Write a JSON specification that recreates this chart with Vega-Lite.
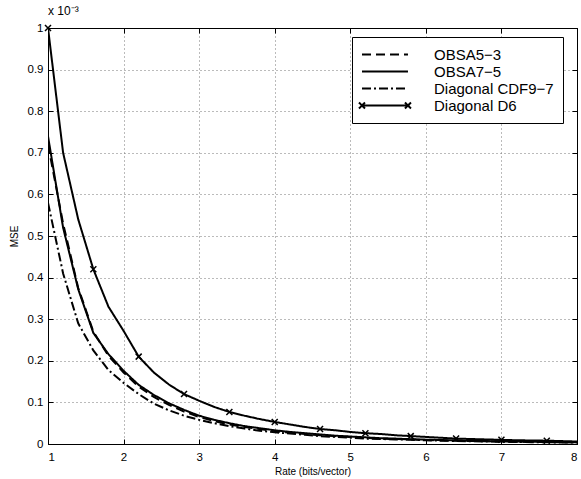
{
  "$schema": "https://vega.github.io/schema/vega-lite/v6.json",
  "width": 529,
  "height": 416,
  "autosize": {"type": "none"},
  "padding": {"left": 48, "top": 28, "right": 4, "bottom": 35},
  "background": "white",
  "title": {"text": "x 10⁻³", "anchor": "start", "frame": "group", "offset": 4, "fontSize": 12, "fontWeight": "normal", "font": "Liberation Sans", "color": "black"},
  "config": {
    "view": {"stroke": "black", "strokeWidth": 1},
    "font": "Liberation Sans",
    "axis": {
      "labelFont": "Liberation Sans", "labelFontSize": 11.5, "labelColor": "black",
      "titleFont": "Liberation Sans", "titleFontSize": 10, "titleFontWeight": "normal", "titleColor": "black",
      "domainColor": "black", "tickColor": "black", "tickSize": -5,
      "grid": true, "gridDash": [1, 3], "gridColor": "#777", "gridOpacity": 1
    }
  },
  "resolve": {"axis": {"x": "independent", "y": "independent"}},
  "data": {"values": [
    {"series": "OBSA5−3", "rate": 1.0, "mse": 0.72},
    {"series": "OBSA5−3", "rate": 1.2, "mse": 0.53},
    {"series": "OBSA5−3", "rate": 1.4, "mse": 0.375},
    {"series": "OBSA5−3", "rate": 1.6, "mse": 0.27},
    {"series": "OBSA5−3", "rate": 1.8, "mse": 0.212},
    {"series": "OBSA5−3", "rate": 2.0, "mse": 0.172},
    {"series": "OBSA5−3", "rate": 2.2, "mse": 0.138},
    {"series": "OBSA5−3", "rate": 2.4, "mse": 0.113},
    {"series": "OBSA5−3", "rate": 2.6, "mse": 0.094},
    {"series": "OBSA5−3", "rate": 2.8, "mse": 0.078},
    {"series": "OBSA5−3", "rate": 3.0, "mse": 0.065},
    {"series": "OBSA5−3", "rate": 3.2, "mse": 0.055},
    {"series": "OBSA5−3", "rate": 3.4, "mse": 0.047},
    {"series": "OBSA5−3", "rate": 3.6, "mse": 0.041},
    {"series": "OBSA5−3", "rate": 3.8, "mse": 0.036},
    {"series": "OBSA5−3", "rate": 4.0, "mse": 0.031},
    {"series": "OBSA5−3", "rate": 4.2, "mse": 0.027},
    {"series": "OBSA5−3", "rate": 4.4, "mse": 0.024},
    {"series": "OBSA5−3", "rate": 4.6, "mse": 0.021},
    {"series": "OBSA5−3", "rate": 4.8, "mse": 0.019},
    {"series": "OBSA5−3", "rate": 5.0, "mse": 0.017},
    {"series": "OBSA5−3", "rate": 5.2, "mse": 0.015},
    {"series": "OBSA5−3", "rate": 5.4, "mse": 0.013},
    {"series": "OBSA5−3", "rate": 5.6, "mse": 0.012},
    {"series": "OBSA5−3", "rate": 5.8, "mse": 0.011},
    {"series": "OBSA5−3", "rate": 6.0, "mse": 0.0098},
    {"series": "OBSA5−3", "rate": 6.2, "mse": 0.0088},
    {"series": "OBSA5−3", "rate": 6.4, "mse": 0.008},
    {"series": "OBSA5−3", "rate": 6.6, "mse": 0.0072},
    {"series": "OBSA5−3", "rate": 6.8, "mse": 0.0065},
    {"series": "OBSA5−3", "rate": 7.0, "mse": 0.006},
    {"series": "OBSA5−3", "rate": 7.2, "mse": 0.0054},
    {"series": "OBSA5−3", "rate": 7.4, "mse": 0.005},
    {"series": "OBSA5−3", "rate": 7.6, "mse": 0.0046},
    {"series": "OBSA5−3", "rate": 7.8, "mse": 0.0042},
    {"series": "OBSA5−3", "rate": 8.0, "mse": 0.0039},

    {"series": "OBSA7−5", "rate": 1.0, "mse": 0.74},
    {"series": "OBSA7−5", "rate": 1.2, "mse": 0.52},
    {"series": "OBSA7−5", "rate": 1.4, "mse": 0.372},
    {"series": "OBSA7−5", "rate": 1.6, "mse": 0.267},
    {"series": "OBSA7−5", "rate": 1.8, "mse": 0.216},
    {"series": "OBSA7−5", "rate": 2.0, "mse": 0.176},
    {"series": "OBSA7−5", "rate": 2.2, "mse": 0.142},
    {"series": "OBSA7−5", "rate": 2.4, "mse": 0.118},
    {"series": "OBSA7−5", "rate": 2.6, "mse": 0.098},
    {"series": "OBSA7−5", "rate": 2.8, "mse": 0.082},
    {"series": "OBSA7−5", "rate": 3.0, "mse": 0.068},
    {"series": "OBSA7−5", "rate": 3.2, "mse": 0.058},
    {"series": "OBSA7−5", "rate": 3.4, "mse": 0.05},
    {"series": "OBSA7−5", "rate": 3.6, "mse": 0.043},
    {"series": "OBSA7−5", "rate": 3.8, "mse": 0.038},
    {"series": "OBSA7−5", "rate": 4.0, "mse": 0.033},
    {"series": "OBSA7−5", "rate": 4.2, "mse": 0.029},
    {"series": "OBSA7−5", "rate": 4.4, "mse": 0.026},
    {"series": "OBSA7−5", "rate": 4.6, "mse": 0.023},
    {"series": "OBSA7−5", "rate": 4.8, "mse": 0.02},
    {"series": "OBSA7−5", "rate": 5.0, "mse": 0.018},
    {"series": "OBSA7−5", "rate": 5.2, "mse": 0.016},
    {"series": "OBSA7−5", "rate": 5.4, "mse": 0.014},
    {"series": "OBSA7−5", "rate": 5.6, "mse": 0.013},
    {"series": "OBSA7−5", "rate": 5.8, "mse": 0.0115},
    {"series": "OBSA7−5", "rate": 6.0, "mse": 0.0105},
    {"series": "OBSA7−5", "rate": 6.2, "mse": 0.0095},
    {"series": "OBSA7−5", "rate": 6.4, "mse": 0.0085},
    {"series": "OBSA7−5", "rate": 6.6, "mse": 0.0077},
    {"series": "OBSA7−5", "rate": 6.8, "mse": 0.007},
    {"series": "OBSA7−5", "rate": 7.0, "mse": 0.0064},
    {"series": "OBSA7−5", "rate": 7.2, "mse": 0.0058},
    {"series": "OBSA7−5", "rate": 7.4, "mse": 0.0053},
    {"series": "OBSA7−5", "rate": 7.6, "mse": 0.0049},
    {"series": "OBSA7−5", "rate": 7.8, "mse": 0.0045},
    {"series": "OBSA7−5", "rate": 8.0, "mse": 0.0042},

    {"series": "Diagonal CDF9−7", "rate": 1.0, "mse": 0.58},
    {"series": "Diagonal CDF9−7", "rate": 1.2, "mse": 0.41},
    {"series": "Diagonal CDF9−7", "rate": 1.4, "mse": 0.29},
    {"series": "Diagonal CDF9−7", "rate": 1.6, "mse": 0.225},
    {"series": "Diagonal CDF9−7", "rate": 1.8, "mse": 0.178},
    {"series": "Diagonal CDF9−7", "rate": 2.0, "mse": 0.147},
    {"series": "Diagonal CDF9−7", "rate": 2.2, "mse": 0.12},
    {"series": "Diagonal CDF9−7", "rate": 2.4, "mse": 0.097},
    {"series": "Diagonal CDF9−7", "rate": 2.6, "mse": 0.081},
    {"series": "Diagonal CDF9−7", "rate": 2.8, "mse": 0.068},
    {"series": "Diagonal CDF9−7", "rate": 3.0, "mse": 0.058},
    {"series": "Diagonal CDF9−7", "rate": 3.2, "mse": 0.05},
    {"series": "Diagonal CDF9−7", "rate": 3.4, "mse": 0.043},
    {"series": "Diagonal CDF9−7", "rate": 3.6, "mse": 0.037},
    {"series": "Diagonal CDF9−7", "rate": 3.8, "mse": 0.032},
    {"series": "Diagonal CDF9−7", "rate": 4.0, "mse": 0.028},
    {"series": "Diagonal CDF9−7", "rate": 4.2, "mse": 0.025},
    {"series": "Diagonal CDF9−7", "rate": 4.4, "mse": 0.022},
    {"series": "Diagonal CDF9−7", "rate": 4.6, "mse": 0.019},
    {"series": "Diagonal CDF9−7", "rate": 4.8, "mse": 0.017},
    {"series": "Diagonal CDF9−7", "rate": 5.0, "mse": 0.015},
    {"series": "Diagonal CDF9−7", "rate": 5.2, "mse": 0.013},
    {"series": "Diagonal CDF9−7", "rate": 5.4, "mse": 0.012},
    {"series": "Diagonal CDF9−7", "rate": 5.6, "mse": 0.011},
    {"series": "Diagonal CDF9−7", "rate": 5.8, "mse": 0.01},
    {"series": "Diagonal CDF9−7", "rate": 6.0, "mse": 0.009},
    {"series": "Diagonal CDF9−7", "rate": 6.2, "mse": 0.008},
    {"series": "Diagonal CDF9−7", "rate": 6.4, "mse": 0.0072},
    {"series": "Diagonal CDF9−7", "rate": 6.6, "mse": 0.0065},
    {"series": "Diagonal CDF9−7", "rate": 6.8, "mse": 0.006},
    {"series": "Diagonal CDF9−7", "rate": 7.0, "mse": 0.0055},
    {"series": "Diagonal CDF9−7", "rate": 7.2, "mse": 0.005},
    {"series": "Diagonal CDF9−7", "rate": 7.4, "mse": 0.0045},
    {"series": "Diagonal CDF9−7", "rate": 7.6, "mse": 0.004},
    {"series": "Diagonal CDF9−7", "rate": 7.8, "mse": 0.0037},
    {"series": "Diagonal CDF9−7", "rate": 8.0, "mse": 0.0034},

    {"series": "Diagonal D6", "rate": 1.0, "mse": 1.0},
    {"series": "Diagonal D6", "rate": 1.2, "mse": 0.7},
    {"series": "Diagonal D6", "rate": 1.4, "mse": 0.54},
    {"series": "Diagonal D6", "rate": 1.6, "mse": 0.42},
    {"series": "Diagonal D6", "rate": 1.8, "mse": 0.33},
    {"series": "Diagonal D6", "rate": 2.0, "mse": 0.272},
    {"series": "Diagonal D6", "rate": 2.2, "mse": 0.21},
    {"series": "Diagonal D6", "rate": 2.4, "mse": 0.172},
    {"series": "Diagonal D6", "rate": 2.6, "mse": 0.143},
    {"series": "Diagonal D6", "rate": 2.8, "mse": 0.12},
    {"series": "Diagonal D6", "rate": 3.0, "mse": 0.104},
    {"series": "Diagonal D6", "rate": 3.2, "mse": 0.089},
    {"series": "Diagonal D6", "rate": 3.4, "mse": 0.077},
    {"series": "Diagonal D6", "rate": 3.6, "mse": 0.068},
    {"series": "Diagonal D6", "rate": 3.8, "mse": 0.06},
    {"series": "Diagonal D6", "rate": 4.0, "mse": 0.053},
    {"series": "Diagonal D6", "rate": 4.2, "mse": 0.047},
    {"series": "Diagonal D6", "rate": 4.4, "mse": 0.041},
    {"series": "Diagonal D6", "rate": 4.6, "mse": 0.036},
    {"series": "Diagonal D6", "rate": 4.8, "mse": 0.033},
    {"series": "Diagonal D6", "rate": 5.0, "mse": 0.029},
    {"series": "Diagonal D6", "rate": 5.2, "mse": 0.026},
    {"series": "Diagonal D6", "rate": 5.4, "mse": 0.024},
    {"series": "Diagonal D6", "rate": 5.6, "mse": 0.021},
    {"series": "Diagonal D6", "rate": 5.8, "mse": 0.019},
    {"series": "Diagonal D6", "rate": 6.0, "mse": 0.017},
    {"series": "Diagonal D6", "rate": 6.2, "mse": 0.015},
    {"series": "Diagonal D6", "rate": 6.4, "mse": 0.013},
    {"series": "Diagonal D6", "rate": 6.6, "mse": 0.012},
    {"series": "Diagonal D6", "rate": 6.8, "mse": 0.011},
    {"series": "Diagonal D6", "rate": 7.0, "mse": 0.01},
    {"series": "Diagonal D6", "rate": 7.2, "mse": 0.009},
    {"series": "Diagonal D6", "rate": 7.4, "mse": 0.0085},
    {"series": "Diagonal D6", "rate": 7.6, "mse": 0.008},
    {"series": "Diagonal D6", "rate": 7.8, "mse": 0.007},
    {"series": "Diagonal D6", "rate": 8.0, "mse": 0.006}
  ]},
  "layer": [
    {
      "mark": {"type": "line", "color": "black", "strokeWidth": 2, "clip": true},
      "encoding": {
        "x": {"field": "rate", "type": "quantitative", "scale": {"domain": [1, 8], "nice": false},
              "axis": {"title": "Rate (bits/vector)", "values": [1, 2, 3, 4, 5, 6, 7, 8], "format": "d", "labelPadding": 12, "titlePadding": 4}},
        "y": {"field": "mse", "type": "quantitative", "scale": {"domain": [0, 1], "nice": false},
              "axis": {"title": "MSE", "values": [0, 0.1, 0.2, 0.3, 0.4, 0.5, 0.6, 0.7, 0.8, 0.9, 1], "format": "~g", "labelPadding": 10, "titlePadding": 8}},
        "strokeDash": {"field": "series", "type": "nominal",
          "scale": {"domain": ["OBSA5−3", "OBSA7−5", "Diagonal CDF9−7", "Diagonal D6"], "range": [[9, 5], [1, 0], [9, 3, 2, 3], [1, 0]]},
          "legend": {
            "title": null, "orient": "none", "legendX": 304, "legendY": 9,
            "strokeColor": "black", "fillColor": "white", "padding": 9,
            "labelFont": "Liberation Sans", "labelFontSize": 15, "labelColor": "black", "labelOffset": 56, "labelLimit": 300,
            "symbolSize": 225, "symbolStrokeWidth": 2, "symbolStrokeColor": "black", "symbolType": "stroke", "rowPadding": 0,
            "encode": {"symbols": {"update": {"shape": {"signal": "datum.value === 'Diagonal D6' ? 'M-1,0L5.13,0M-1.4,-0.4L-0.6,0.4M-1.4,0.4L-0.6,-0.4M4.73,-0.4L5.53,0.4M4.73,0.4L5.53,-0.4' : 'M-1,0L5.13,0'"}}}}
          }}
      }
    },
    {
      "transform": [{"filter": {"field": "series", "equal": "Diagonal D6"}}, {"filter": {"field": "rate", "oneOf": [1, 1.6, 2.2, 2.8, 3.4, 4, 4.6, 5.2, 5.8, 6.4, 7, 7.6]}}],
      "mark": {"type": "point", "shape": "M-1,-1L1,1M-1,1L1,-1", "size": 36, "color": "black", "strokeWidth": 1.5, "filled": false, "opacity": 1, "clip": false},
      "encoding": {
        "x": {"field": "rate", "type": "quantitative",
              "axis": {"orient": "top", "values": [1, 2, 3, 4, 5, 6, 7, 8], "labels": false, "grid": false, "title": null}},
        "y": {"field": "mse", "type": "quantitative",
              "axis": {"orient": "right", "values": [0, 0.1, 0.2, 0.3, 0.4, 0.5, 0.6, 0.7, 0.8, 0.9, 1], "labels": false, "grid": false, "title": null}}
      }
    }
  ]
}
